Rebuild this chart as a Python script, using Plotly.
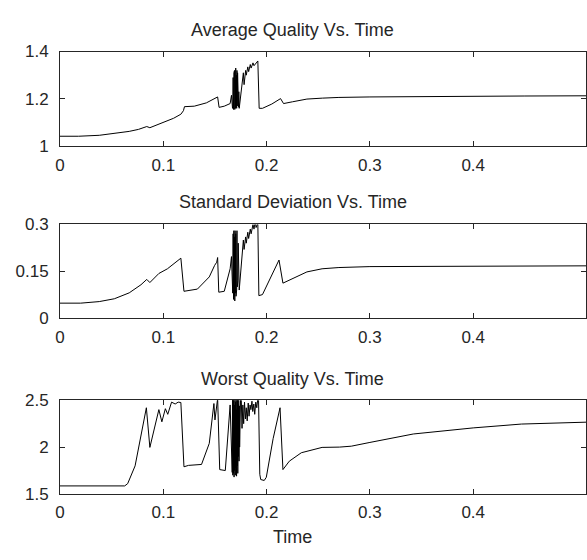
import plotly.graph_objects as go

# ---------------- data ----------------
avg_t = [0.0, 0.018, 0.038, 0.055, 0.067, 0.076, 0.084, 0.087, 0.0986, 0.110, 0.117, 0.1195, 0.1205,
         0.130, 0.1417, 0.1526, 0.154, 0.159, 0.1647, 0.166, 0.167,
         0.1672, 0.1676, 0.1680, 0.1683, 0.1686, 0.1689, 0.1692, 0.1695, 0.1698, 0.1701, 0.1704,
         0.1707, 0.1710, 0.1713, 0.1716, 0.1719, 0.1722, 0.1725, 0.1728, 0.1731, 0.1735,
         0.1775, 0.1782, 0.1797, 0.1803, 0.1818, 0.1826, 0.1842, 0.1850, 0.1868, 0.1878, 0.1915,
         0.1928, 0.196, 0.205, 0.2135, 0.2164, 0.225, 0.239, 0.254, 0.27, 0.30, 0.35, 0.40, 0.45, 0.515]
avg_v = [1.042, 1.042, 1.046, 1.054, 1.0625, 1.071, 1.083, 1.078, 1.097, 1.118, 1.135, 1.150, 1.167,
         1.169, 1.183, 1.208, 1.164, 1.169, 1.18, 1.215, 1.16,
         1.16, 1.29, 1.155, 1.31, 1.16, 1.32, 1.155, 1.28, 1.16, 1.33, 1.165,
         1.30, 1.16, 1.32, 1.17, 1.31, 1.18, 1.27, 1.165, 1.23, 1.16,
         1.31, 1.26, 1.32, 1.30, 1.335, 1.315, 1.345, 1.33, 1.352, 1.34, 1.36,
         1.16, 1.16, 1.178, 1.201, 1.18, 1.1875, 1.199, 1.203, 1.206, 1.208, 1.210, 1.211, 1.212, 1.213]

std_t = [0.0, 0.020, 0.038, 0.0526, 0.067, 0.0784, 0.084, 0.087, 0.0957, 0.104, 0.117, 0.120,
         0.133, 0.1445, 0.1497, 0.1517, 0.1526, 0.1537, 0.159, 0.1647, 0.166, 0.167,
         0.1672, 0.1676, 0.1680, 0.1683, 0.1686, 0.1689, 0.1692, 0.1695, 0.1698, 0.1701, 0.1704,
         0.1707, 0.1710, 0.1713, 0.1716, 0.1719, 0.1722, 0.1725, 0.1728, 0.1731, 0.1735,
         0.1775, 0.1782, 0.1797, 0.1803, 0.1818, 0.1826, 0.1842, 0.1850, 0.1868, 0.1878, 0.1890,
         0.1898, 0.1915, 0.1925, 0.196, 0.204, 0.212, 0.2158, 0.225, 0.239, 0.2537, 0.27, 0.30,
         0.35, 0.40, 0.45, 0.515]
std_v = [0.048, 0.048, 0.053, 0.062, 0.081, 0.107, 0.124, 0.114, 0.143, 0.158, 0.192, 0.086,
         0.093, 0.132, 0.169, 0.179, 0.194, 0.083, 0.086, 0.158, 0.197, 0.081,
         0.08, 0.27, 0.06, 0.28, 0.07, 0.26, 0.055, 0.28, 0.08, 0.27, 0.07,
         0.25, 0.09, 0.28, 0.10, 0.26, 0.12, 0.24, 0.10, 0.20, 0.09,
         0.25, 0.22, 0.26, 0.24, 0.275, 0.255, 0.285, 0.27, 0.30, 0.285, 0.31,
         0.29, 0.305, 0.072, 0.0755, 0.13, 0.186, 0.112, 0.127, 0.148, 0.158, 0.162, 0.165,
         0.166, 0.1665, 0.167, 0.1675]

worst_t = [0.0, 0.0626, 0.0655, 0.0727, 0.0836, 0.087, 0.0957, 0.0986, 0.102, 0.1043, 0.108, 0.1115,
           0.1144, 0.117, 0.120, 0.1244, 0.137, 0.1445, 0.149, 0.150, 0.1526, 0.1546, 0.160,
           0.1647, 0.1667,
           0.1670, 0.1673, 0.1676, 0.1679, 0.1682, 0.1685, 0.1688, 0.1691, 0.1694, 0.1697, 0.1700,
           0.1703, 0.1706, 0.1709, 0.1712, 0.1715, 0.1718, 0.1721, 0.1724, 0.1727, 0.1730, 0.1733,
           0.1736, 0.1739, 0.1742, 0.1745, 0.1748,
           0.1755, 0.1762, 0.1770, 0.1778, 0.1786, 0.1795, 0.1803, 0.1812, 0.1822, 0.1830, 0.1840,
           0.1848, 0.1858, 0.1866, 0.1876, 0.1885, 0.1895, 0.1905, 0.1915, 0.1922,
           0.1934, 0.1943, 0.1977, 0.1997, 0.2063, 0.213, 0.2158, 0.222, 0.2336, 0.2537, 0.2705,
           0.282, 0.30, 0.342, 0.40, 0.4467, 0.515]
worst_v = [1.586, 1.586, 1.61, 1.80, 2.42, 1.997, 2.40, 2.27, 2.41, 2.35, 2.48, 2.46,
           2.48, 2.476, 1.79, 1.805, 1.815, 2.04, 2.465, 2.29, 2.52, 1.76, 1.75,
           2.45, 1.73,
           2.52, 1.70, 2.50, 1.72, 2.52, 1.68, 2.45, 1.75, 2.52, 1.70, 2.48,
           1.78, 2.52, 1.69, 2.40, 1.80, 2.52, 1.72, 2.46, 1.90, 2.52, 1.85,
           2.44, 2.00, 2.50, 2.10, 2.52,
           2.50, 2.20, 2.45, 2.25, 2.48, 2.30, 2.42, 2.28, 2.47, 2.33, 2.45,
           2.40, 2.49, 2.38, 2.46, 2.35, 2.48, 2.42, 2.52, 2.50,
           1.71, 1.654, 1.644, 1.678, 2.09, 2.42, 1.76, 1.85, 1.94, 1.997, 2.0,
           2.01, 2.05, 2.14, 2.205, 2.246, 2.268]

x_ticks = [0, 0.1, 0.2, 0.3, 0.4]
x_ticklabels = ["0", "0.1", "0.2", "0.3", "0.4"]
avg_yticks = [1, 1.2, 1.4]
avg_yticklabels = ["1", "1.2", "1.4"]
std_yticks = [0, 0.15, 0.3]
std_yticklabels = ["0", "0.15", "0.3"]
worst_yticks = [1.5, 2, 2.5]
worst_yticklabels = ["1.5", "2", "2.5"]

titles = ["Average Quality Vs. Time", "Standard Deviation Vs. Time", "Worst Quality Vs. Time"]
x_label = "Time"

# ---------------- figure ----------------
W, H = 587, 560
FONT = "Liberation Sans, Arial, sans-serif"
AX = "#262626"
TXT = "#262626"
LEFT = 60
XMAX = (W - LEFT) / 1035.0   # ~103.5 px per 0.1

fig = go.Figure()
series = [(avg_t, avg_v), (std_t, std_v), (worst_t, worst_v)]
for i, (t, v) in enumerate(series):
    fig.add_trace(go.Scatter(x=t, y=v, mode="lines",
                             line=dict(color="black", width=1),
                             xaxis="x" if i == 0 else f"x{i+1}",
                             yaxis="y" if i == 0 else f"y{i+1}",
                             showlegend=False, hoverinfo="skip"))

boxes = [(44, 142), (223, 320), (405, 502)]
yinfo = [((1, 1.4), avg_yticks, avg_yticklabels),
         ((0, 0.3), std_yticks, std_yticklabels),
         ((1.5, 2.5), worst_yticks, worst_yticklabels)]

layout = dict(width=W, height=H, paper_bgcolor="white", plot_bgcolor="white",
              margin=dict(l=LEFT, r=0, t=0, b=0),
              font=dict(family=FONT, size=17, color=TXT))
for i, ((top, bot), (rng, tv, tt)) in enumerate(zip(boxes, yinfo)):
    xa = "xaxis" if i == 0 else f"xaxis{i+1}"
    ya = "yaxis" if i == 0 else f"yaxis{i+1}"
    yname = "y" if i == 0 else f"y{i+1}"
    xname = "x" if i == 0 else f"x{i+1}"
    layout[xa] = dict(domain=[0, 1], anchor=yname, range=[0, XMAX],
                      tickvals=x_ticks, ticktext=x_ticklabels,
                      ticks="inside", ticklen=5, tickcolor=AX, tickwidth=1,
                      showline=True, linecolor=AX, linewidth=1, mirror="ticks",
                      showgrid=False, zeroline=False, ticklabelstandoff=3,
                      tickfont=dict(size=17, family=FONT, color=TXT))
    layout[ya] = dict(domain=[1 - bot / H, 1 - top / H], anchor=xname, range=list(rng),
                      tickvals=tv, ticktext=tt,
                      ticks="inside", ticklen=5, tickcolor=AX, tickwidth=1,
                      showline=True, linecolor=AX, linewidth=1, mirror="ticks",
                      showgrid=False, zeroline=False, ticklabelstandoff=7,
                      tickfont=dict(size=17, family=FONT, color=TXT))
fig.update_layout(**layout)

CX = 293
cx_paper = (CX - LEFT) / (W - LEFT)
title_y = [22, 200, 383]
for txt, yy in zip(titles, title_y):
    fig.add_annotation(text=txt, x=cx_paper, y=1 - yy / H, xref="paper", yref="paper",
                       showarrow=False, xanchor="center", yanchor="middle",
                       font=dict(size=18, family=FONT, color=TXT))
fig.add_annotation(text=x_label, x=cx_paper, y=1 - 547 / H, xref="paper", yref="paper",
                   showarrow=False, xanchor="center", yanchor="middle",
                   font=dict(size=18, family=FONT, color=TXT))

fig.write_html("out.html",
               config={"displayModeBar": False, "staticPlot": True},
               post_script="document.body.style.margin='0';document.body.style.overflow='hidden';")
